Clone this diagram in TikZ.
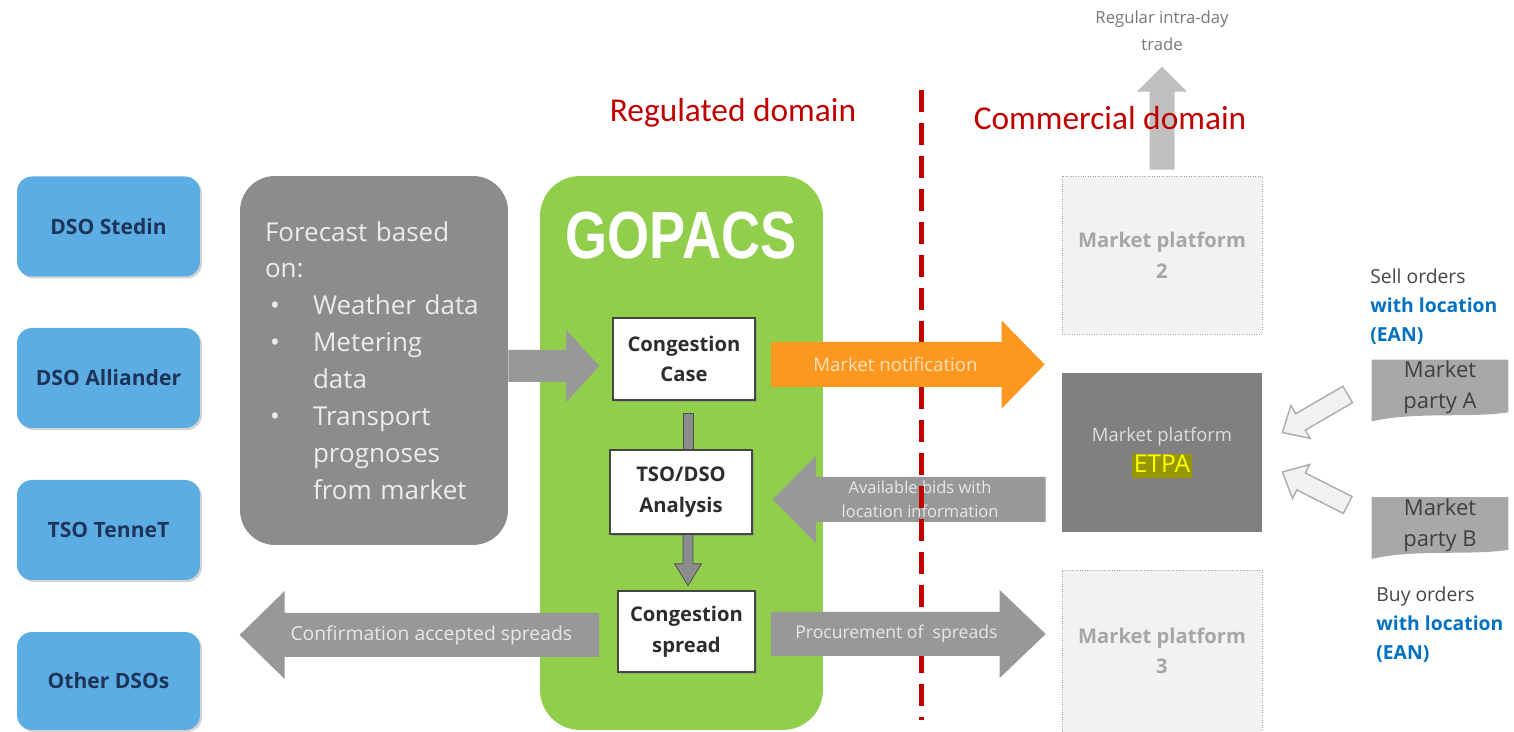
\documentclass[tikz,border=0pt]{standalone}
\usepackage{fontspec}
\setmainfont{Open Sans}
\newfontfamily\carlito{Carlito}
\newfontfamily\logofont{Liberation Sans}
\usetikzlibrary{calc,shadows,backgrounds}

\definecolor{dsoblue}{RGB}{92,173,228}
\definecolor{dsonavy}{RGB}{30,52,88}
\definecolor{fcgray}{RGB}{140,140,140}
\definecolor{fctext}{RGB}{236,236,236}
\definecolor{gopgreen}{RGB}{144,206,76}
\definecolor{boxline}{RGB}{70,70,70}
\definecolor{boxtext}{RGB}{45,45,45}
\definecolor{notiforange}{RGB}{252,152,32}
\definecolor{notiftext}{RGB}{255,226,186}
\definecolor{arrowgray}{RGB}{152,152,152}
\definecolor{arrowtext}{RGB}{232,232,232}
\definecolor{barfill}{RGB}{140,140,140}
\definecolor{domainred}{RGB}{192,0,0}
\definecolor{platfill}{RGB}{242,242,242}
\definecolor{platline}{RGB}{165,165,165}
\definecolor{plattext}{RGB}{166,166,166}
\definecolor{etpagray}{RGB}{128,128,128}
\definecolor{etpatext}{RGB}{222,222,222}
\definecolor{etpahl}{RGB}{150,150,0}
\definecolor{etpayellow}{RGB}{255,255,0}
\definecolor{upgray}{RGB}{192,192,192}
\definecolor{partyfill}{RGB}{168,168,168}
\definecolor{partytext}{RGB}{64,64,64}
\definecolor{ordertext}{RGB}{70,70,70}
\definecolor{eanblue}{RGB}{0,112,192}
\definecolor{tradetext}{RGB}{120,120,120}

% bullet and indent for the forecast list
\newcommand{\fcitem}{\makebox[0.96cm][l]{\hspace{0.1cm}\textbullet}}
\newcommand{\fcindent}{\hspace*{0.96cm}}

% block arrow: [style]{from}{to}{half shaft}{half head}{head length}
\newcommand{\blockarrow}[6][]{%
  \coordinate (ahead) at ($(#3)!#6!(#2)$);
  \path[#1] ($(#2)!#4!90:(#3)$) -- ($(ahead)!#4!-90:(#2)$) -- ($(ahead)!#5!-90:(#2)$)
    -- (#3) -- ($(ahead)!#5!90:(#2)$) -- ($(ahead)!#4!90:(#2)$) -- ($(#2)!#4!-90:(#3)$) -- cycle;}

\tikzset{
  dsobox/.style={rectangle, rounded corners=0.3cm, fill=dsoblue, minimum width=3.66cm, minimum height=2cm,
    text=dsonavy, font=\fontsize{12}{14}\selectfont\bfseries,
    drop shadow={shadow xshift=0.04cm, shadow yshift=-0.04cm, opacity=0.35}},
  fcbox/.style={rectangle, rounded corners=0.7cm, fill=fcgray, minimum width=5.36cm, minimum height=7.38cm,
    inner xsep=0.5cm, text width=4.36cm, align=left, text=fctext, font=\fontsize{14.8}{21}\selectfont},
  gopbox/.style={rectangle, rounded corners=0.8cm, fill=gopgreen, minimum width=5.66cm, minimum height=11.08cm},
  logo/.style={text=white, font=\logofont\bfseries\fontsize{38}{40}\selectfont},
  procbox/.style={rectangle, draw=boxline, line width=0.9pt, fill=white, minimum width=2.84cm, minimum height=1.64cm,
    align=center, text=boxtext, font=\fontsize{11.5}{17.5}\selectfont\bfseries,
    drop shadow={shadow xshift=0.05cm, shadow yshift=-0.05cm, opacity=0.4}},
  platbox/.style={rectangle, draw=platline, densely dotted, fill=platfill, minimum width=4cm, minimum height=3.16cm,
    align=center, text=plattext, font=\fontsize{11.5}{17.5}\selectfont\bfseries},
  etpabox/.style={rectangle, fill=etpagray, minimum width=4cm, minimum height=3.18cm,
    align=center, text=etpatext, font=\fontsize{10.5}{17}\selectfont},
  partybox/.style={rectangle, inner sep=0pt, minimum width=2.72cm, minimum height=1.1cm,
    align=center, text=partytext, font=\fontsize{12.5}{17.5}\selectfont},
  orders/.style={anchor=west, align=left, inner sep=0pt, text=ordertext, font=\fontsize{11}{16.4}\selectfont},
  arrowlabel/.style={text=arrowtext, align=center},
  domainlabel/.style={text=domainred, font=\carlito\fontsize{19}{22}\selectfont},
  tradelabel/.style={text=tradetext, align=center, font=\fontsize{9.5}{15.3}\selectfont},
  flowbar/.style={fill=barfill, draw=gray!60!black, line width=0.4pt},
  hollow/.style={fill=platfill, draw=gray!65, line width=0.8pt},
  divider/.style={domainred, line width=0.1cm, dash pattern=on 0.44cm off 0.22cm}
}

\begin{document}
\begin{tikzpicture}[x=0.02cm, y=0.02cm]
  \useasboundingbox (0,0) rectangle (1514,732);

  % GOPACS platform
  \node[gopbox] (gopacs) at (681.5,279) {};
  \node[logo, xscale=0.81] (logo) at (681,496) {GOPACS};

  % Grid operators
  \node[dsobox] (stedin) at (108.5,505.5) {DSO Stedin};
  \node[dsobox] (alliander) at (108.5,354) {DSO Alliander};
  \node[dsobox] (tennet) at (108.5,202) {TSO TenneT};
  \node[dsobox, minimum height=1.96cm] (otherdso) at (108.5,51) {Other DSOs};

  % Forecast input
  \node[fcbox] (forecast) at (374,371.5) {Forecast based\\on:\\\fcitem Weather data\\\fcitem Metering\\\fcindent data\\\fcitem Transport\\\fcindent prognoses\\\fcindent from market};

  % Process steps in GOPACS
  \node[procbox] (case) at (684,373) {Congestion\\Case};
  \node[procbox, minimum height=1.68cm] (analysis) at (681,240) {TSO/DSO\\Analysis};
  \node[procbox, minimum width=2.74cm, minimum height=1.62cm] (spread) at (686.5,100.5) {Congestion\\spread};

  % Market platforms
  \node[platbox] (mptwo) at (1162,477) {Market platform\\2};
  \node[etpabox] (etpa) at (1162,279.5) {Market platform\\[1pt]{\fontsize{14}{16}\selectfont\setlength{\fboxsep}{1pt}\colorbox{etpahl}{\color{etpayellow}\rule[-1.8pt]{0pt}{11.8pt}ETPA}}};
  \node[platbox, minimum height=3.24cm] (mpthree) at (1162,81) {Market platform\\3};

  % Market parties and orders
  \node[partybox] (pa) at (1440,344.5) {Market\\party A};
  \node[partybox] (pb) at (1440,207) {Market\\party B};
  \node[orders] (sell) at (1370,425) {Sell orders\\{\bfseries\color{eanblue}with location}\\{\bfseries\color{eanblue}(EAN)}};
  \node[orders] (buy) at (1376,107) {Buy orders\\{\bfseries\color{eanblue}with location}\\{\bfseries\color{eanblue}(EAN)}};

  \begin{scope}[on background layer]
    \fill[white] (0,0) rectangle (1514,732);
    \fill[partyfill] (pa.north west) -- (pa.north east) -- ([yshift=0.06cm]pa.south east)
      .. controls +(-0.8cm,-0.12cm) and +(0.9cm,0.2cm) .. ([yshift=-0.12cm]pa.south west) -- cycle;
    \fill[partyfill] (pb.north west) -- (pb.north east) -- ([yshift=0.06cm]pb.south east)
      .. controls +(-0.8cm,-0.12cm) and +(0.9cm,0.2cm) .. ([yshift=-0.12cm]pb.south west) -- cycle;
  \end{scope}

  % Forecast into congestion case
  \coordinate (fc1) at ($(forecast.east)+(0,-5.5)$);
  \coordinate (fc2) at ($(case.west)+(-13,-7)$);
  \blockarrow[fill=arrowgray]{fc1}{fc2}{0.32cm}{0.72cm}{0.66cm}

  % Available bids
  \coordinate (ab1) at ($(analysis.east -| etpa.west)+(-16,-7.5)$);
  \coordinate (ab2) at ($(analysis.east)+(20,-7.5)$);
  \blockarrow[fill=arrowgray]{ab1}{ab2}{0.45cm}{0.87cm}{0.86cm}
  \node[arrowlabel, font=\fontsize{9.4}{13.6}\selectfont] (ablabel) at ($(ab1)!0.46!(ab2)$) {Available bids with\\location information};

  % Divider between the domains
  \coordinate (divtop) at (921,642);
  \coordinate (divbot) at (921,12);
  \draw[divider] (divtop) -- (divbot);

  % Market notification
  \coordinate (mn1) at ($(case.east)+(15,-5.5)$);
  \coordinate (mn2) at ($(case.east -| etpa.west)+(-17,-5.5)$);
  \blockarrow[fill=notiforange]{mn1}{mn2}{0.45cm}{0.88cm}{0.86cm}
  \node[arrowlabel, text=notiftext, font=\fontsize{10.6}{12}\selectfont] (mnlabel) at ($(mn1)!0.455!(mn2)$) {Market notification};

  % Confirmation back to the grid operators
  \coordinate (cf1) at ($(spread.west)+(-18,-3.5)$);
  \coordinate (cf2) at ($(spread.west -| forecast.west)+(0,-3.5)$);
  \blockarrow[fill=arrowgray]{cf1}{cf2}{0.44cm}{0.88cm}{0.9cm}
  \node[arrowlabel, font=\fontsize{11}{12}\selectfont] (cflabel) at ($(cf1)!0.467!(cf2)$) {Confirmation accepted spreads};

  % Procurement
  \coordinate (pr1) at ($(spread.east)+(15,-2.5)$);
  \coordinate (pr2) at ($(spread.east -| mpthree.west)+(-16,-2.5)$);
  \blockarrow[fill=arrowgray]{pr1}{pr2}{0.44cm}{0.88cm}{0.92cm}
  \node[arrowlabel, font=\fontsize{10}{12}\selectfont] (prlabel) at ($(pr1)!0.457!(pr2)$) {Procurement of~ spreads};

  % Flow inside GOPACS
  \filldraw[flowbar] ($(case.south)+(-1,-13)$) rectangle ($(case.south |- analysis.north)+(9,0)$);
  \coordinate (an1) at ($(analysis.south)+(7,0)$);
  \coordinate (an2) at ($(analysis.south)+(7,-51)$);
  \blockarrow[flowbar]{an1}{an2}{0.1cm}{0.27cm}{0.44cm}

  % Regular intra-day trade
  \coordinate (up1) at ($(mptwo.north)+(0,6)$);
  \coordinate (up2) at ($(mptwo.north)+(0,109)$);
  \blockarrow[fill=upgray]{up1}{up2}{0.25cm}{0.5cm}{0.5cm}
  \node[tradelabel] (trade) at (1162,701) {Regular intra-day\\trade};

  % Orders into ETPA
  \coordinate (ha1) at ($(pa.west)+(-24,-7)$);
  \coordinate (ha2) at ($(etpa.east)+(20,20)$);
  \blockarrow[hollow]{ha1}{ha2}{0.19cm}{0.38cm}{0.42cm}
  \coordinate (hb1) at ($(pb.west)+(-24,20)$);
  \coordinate (hb2) at ($(etpa.east)+(20,-19.5)$);
  \blockarrow[hollow]{hb1}{hb2}{0.19cm}{0.38cm}{0.42cm}

  % Domain labels
  \node[domainlabel] (regulated) at (733,619) {Regulated domain};
  \node[domainlabel] (commercial) at (1110,614) {Commercial domain};
\end{tikzpicture}
\end{document}
